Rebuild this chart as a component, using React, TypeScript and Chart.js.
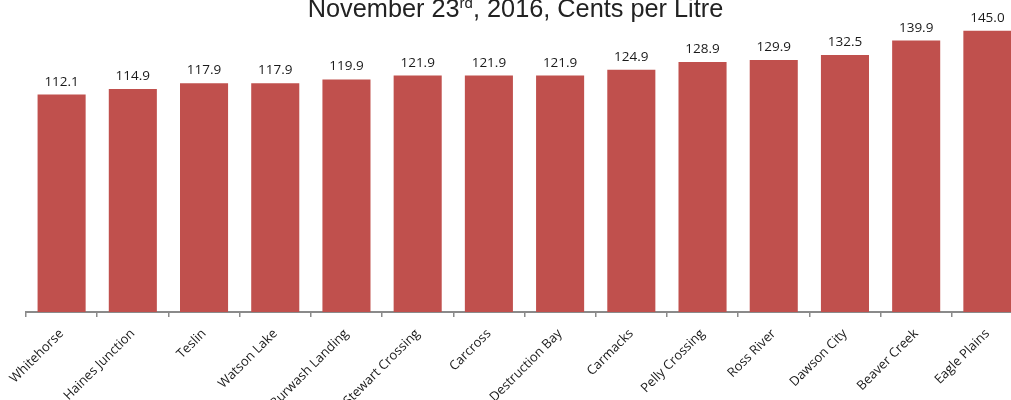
import React, { useEffect, useRef } from "react";
import { Chart, registerables } from "chart.js";

Chart.register(...registerables);

const categories = [
  "Whitehorse",
  "Haines Junction",
  "Teslin",
  "Watson Lake",
  "Burwash Landing",
  "Stewart Crossing",
  "Carcross",
  "Destruction Bay",
  "Carmacks",
  "Pelly Crossing",
  "Ross River",
  "Dawson City",
  "Beaver Creek",
  "Eagle Plains",
];

const prices = [112.1, 114.9, 117.9, 117.9, 119.9, 121.9, 121.9, 121.9, 124.9, 128.9, 129.9, 132.5, 139.9, 145.0];

const titleMain = "November 23";
const titleSup = "rd";
const titleRest = ", 2016, Cents per Litre";

const BAR_COLOR = "#C0504D";
const AXIS_COLOR = "#8a8a8a";
const TEXT_COLOR = "#1a1a1a";

const titlePlugin = {
  id: "supTitle",
  afterDraw(chart: any) {
    const ctx = chart.ctx;
    ctx.save();
    const mainFont = "25.3px 'Liberation Sans', Arial, sans-serif";
    const supFont = "15px 'Liberation Sans', Arial, sans-serif";
    ctx.font = mainFont;
    const w1 = ctx.measureText(titleMain).width;
    const w3 = ctx.measureText(titleRest).width;
    ctx.font = supFont;
    const w2 = ctx.measureText(titleSup).width;
    const total = w1 + w2 + w3;
    let x = chart.width / 2 - total / 2;
    const y = chart.chartArea.top - 4.3;
    ctx.fillStyle = "#222222";
    ctx.textAlign = "left";
    ctx.textBaseline = "alphabetic";
    ctx.font = mainFont;
    ctx.fillText(titleMain, x, y);
    x += w1;
    ctx.font = supFont;
    ctx.fillText(titleSup, x, y - 9);
    x += w2;
    ctx.font = mainFont;
    ctx.fillText(titleRest, x, y);
    ctx.restore();
  },
};

const valueLabelPlugin = {
  id: "valueLabels",
  afterDatasetsDraw(chart: any) {
    const ctx = chart.ctx;
    const meta = chart.getDatasetMeta(0);
    ctx.save();
    ctx.font = "13.5px 'Open Sans', sans-serif";
    ctx.fillStyle = TEXT_COLOR;
    ctx.textAlign = "center";
    ctx.textBaseline = "alphabetic";
    meta.data.forEach((bar: any, i: number) => {
      ctx.fillText(prices[i].toFixed(1), bar.x, bar.y - 9);
    });
    ctx.restore();
  },
};

export default function App() {
  const canvasRef = useRef<HTMLCanvasElement | null>(null);

  useEffect(() => {
    if (!canvasRef.current) return;
    const chart = new Chart(canvasRef.current, {
      type: "bar",
      data: {
        labels: categories,
        datasets: [
          {
            data: prices,
            backgroundColor: BAR_COLOR,
            borderWidth: 0,
            barPercentage: 0.675,
            categoryPercentage: 1,
          },
        ],
      },
      options: {
        animation: false,
        responsive: true,
        maintainAspectRatio: false,
        layout: { padding: { left: 26, right: 8, top: 41, bottom: 0 } },
        plugins: {
          legend: { display: false },
          title: { display: false },
          tooltip: { enabled: false },
        },
        scales: {
          x: {
            grid: {
              display: true,
              drawOnChartArea: false,
              drawTicks: true,
              tickLength: 5,
              color: AXIS_COLOR,
              lineWidth: 1.5,
              offset: true,
            },
            border: { display: true, color: AXIS_COLOR, width: 2 },
            ticks: {
              autoSkip: false,
              minRotation: 45,
              maxRotation: 45,
              color: TEXT_COLOR,
              padding: 9,
              labelOffset: 0,
              font: { family: "'Open Sans', sans-serif", size: 13 },
            },
            afterFit: (scale: any) => {
              scale.height = 108;
              scale.paddingLeft = 0;
              scale.paddingRight = 0;
            },
          },
          y: {
            display: false,
            min: 0,
            max: 150,
          },
        },
      },
      plugins: [titlePlugin, valueLabelPlugin],
    });
    return () => chart.destroy();
  }, []);

  return (
    <div
      style={{
        position: "fixed",
        left: 0,
        top: 0,
        width: 1011,
        height: 400,
        overflow: "hidden",
        background: "#ffffff",
      }}
    >
      <div style={{ position: "absolute", left: 0, top: -20, width: 1031, height: 440 }}>
        <canvas ref={canvasRef} />
      </div>
    </div>
  );
}
